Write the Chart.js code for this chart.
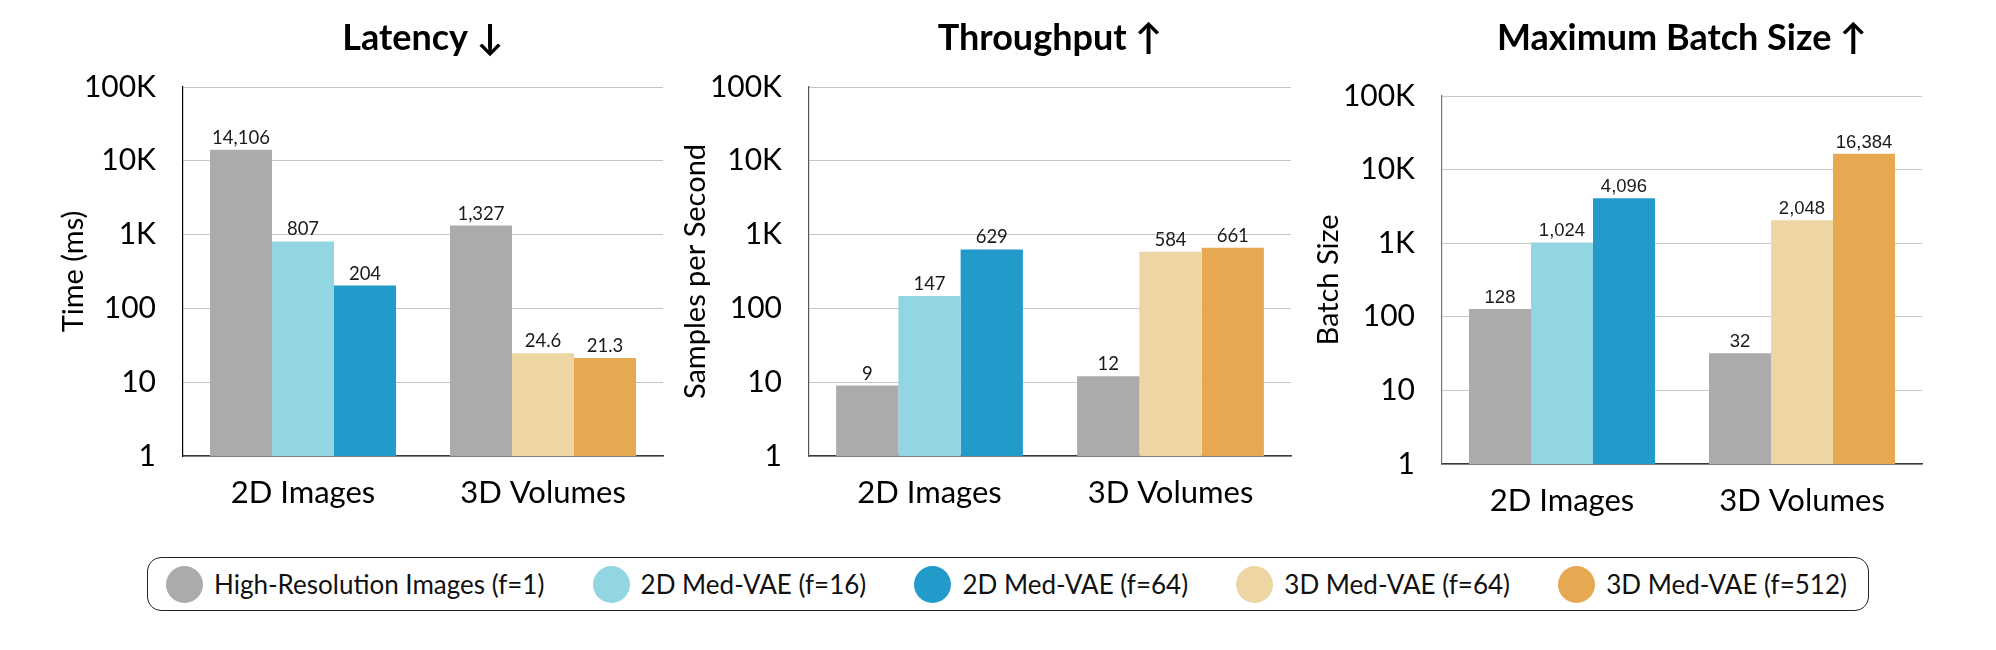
<!DOCTYPE html>
<html lang="en">
<head>
  <meta charset="UTF-8" />
  <title>Med-VAE Efficiency</title>
  <script src="https://cdn.jsdelivr.net/npm/chart.js"></script>
  <style>
    body { margin: 0; background: #fff; font-family: Lato, sans-serif; }
    #page { position: relative; width: 1996px; height: 650px; }
    canvas { position: absolute; top: 0; }
    #legend {
      position: absolute; left: 147px; top: 557px; width: 1722px; height: 54px;
      box-sizing: border-box; border: 1.5px solid #222; border-radius: 14px;
      display: flex; align-items: center; justify-content: space-between;
      padding: 0 21px 0 18px; font-size: 26px; color: #111;
    }
    .item { display: flex; align-items: center; white-space: nowrap; }
    .dot { width: 37px; height: 37px; border-radius: 50%; margin-right: 11px; }
  </style>
</head>
<body>
  <div id="page">
    <canvas id="latency" width="690" height="540" style="left:0px"></canvas>
    <canvas id="throughput" width="690" height="540" style="left:626px"></canvas>
    <canvas id="batch" width="690" height="549" style="left:1259px"></canvas>
    <div id="legend"></div>
  </div>

  <script>
    const categories = ["2D Images", "3D Volumes"];
    const seriesNames = [
      "High-Resolution Images (f=1)",
      "2D Med-VAE (f=16)",
      "2D Med-VAE (f=64)",
      "3D Med-VAE (f=64)",
      "3D Med-VAE (f=512)"
    ];
    const seriesColors = ["#ababab", "#93d6e3", "#229bcb", "#eed6a4", "#e7a852"];

    // one array per series, [2D Images, 3D Volumes]
    const latency = [[14106, 1327], [807, null], [204, null], [null, 24.6], [null, 21.3]];
    const throughput = [[9, 12], [147, null], [629, null], [null, 584], [null, 661]];
    const batchSize = [[128, 32], [1024, null], [4096, null], [null, 2048], [null, 16384]];

    const yTickValues = [1, 10, 100, 1000, 10000, 100000];
    const yTickLabels = ["1", "10", "100", "1K", "10K", "100K"];

    // value text above each bar
    const valueLabels = {
      id: "valueLabels",
      afterDatasetsDraw(chart, args, opts) {
        const ctx = chart.ctx;
        ctx.save();
        ctx.font = opts.font;
        ctx.fillStyle = "#1a1a1a";
        ctx.textAlign = "center";
        ctx.textBaseline = "alphabetic";
        chart.data.datasets.forEach((ds, i) => {
          chart.getDatasetMeta(i).data.forEach((bar, j) => {
            const v = ds.data[j];
            if (v == null) return;
            ctx.fillText(v.toLocaleString("en-US"), bar.x, bar.y - 6);
          });
        });
        ctx.restore();
      }
    };

    function makeChart(id, title, yTitle, values, cfg) {
      return new Chart(document.getElementById(id), {
        type: "bar",
        data: {
          labels: categories,
          datasets: values.map((vals, i) => ({
            label: seriesNames[i],
            data: vals,
            backgroundColor: seriesColors[i],
            skipNull: true,
            categoryPercentage: 0.775,
            barPercentage: 1.0
          }))
        },
        plugins: [valueLabels],
        options: {
          responsive: false,
          animation: false,
          events: [],
          layout: { padding: { left: 0, right: cfg.padRight, top: 0, bottom: 0 } },
          plugins: {
            legend: { display: false },
            tooltip: { enabled: false },
            title: {
              display: true,
              text: title,
              fullSize: false,
              color: "#000",
              font: { family: "Lato", size: 36, weight: "bold" },
              padding: { top: 17, bottom: cfg.titleGap }
            },
            valueLabels: { font: cfg.labelFont }
          },
          scales: {
            x: {
              afterFit: s => { s.height = cfg.xHeight; },
              grid: { display: false, drawTicks: false },
              border: { color: "#3a3a3a", width: 1.5 },
              ticks: { color: "#000", font: { family: "Lato", size: 31 }, padding: 18 }
            },
            y: {
              type: "logarithmic",
              min: 1,
              max: 100000,
              afterFit: s => { s.width = 183; },
              afterBuildTicks: s => { s.ticks = yTickValues.map(v => ({ value: v })); },
              grid: { color: "#c6c6c6", lineWidth: 1, drawTicks: false },
              border: { color: cfg.axisColor, width: 1.2 },
              ticks: {
                color: "#000",
                font: { family: "Lato", size: 30 },
                padding: 27,
                callback: v => yTickLabels[yTickValues.indexOf(v)]
              },
              title: {
                display: true,
                text: yTitle,
                color: "#000",
                font: { family: "Lato", size: 29 },
                padding: { top: cfg.yTitlePad, bottom: 0 }
              }
            }
          }
        }
      });
    }

    makeChart("latency", "Latency \u2193", "Time (ms)", latency, {
      padRight: 27, titleGap: 26.8, xHeight: 84, yTitlePad: 56,
      axisColor: "#000", labelFont: "18.5px Lato"
    });
    makeChart("throughput", "Throughput \u2191", "Samples per Second", throughput, {
      padRight: 25, titleGap: 26.8, xHeight: 84, yTitlePad: 52,
      axisColor: "#555", labelFont: "18.5px Lato"
    });
    makeChart("batch", "Maximum Batch Size \u2191", "Batch Size", batchSize, {
      padRight: 27, titleGap: 35.8, xHeight: 85, yTitlePad: 52,
      axisColor: "#777", labelFont: "18.5px 'Liberation Sans', Arial"
    });

    // shared legend
    const legend = document.getElementById("legend");
    seriesNames.forEach((name, i) => {
      const item = document.createElement("div");
      item.className = "item";
      const dot = document.createElement("span");
      dot.className = "dot";
      dot.style.background = seriesColors[i];
      item.appendChild(dot);
      item.appendChild(document.createTextNode(name));
      legend.appendChild(item);
    });
  </script>
</body>
</html>
